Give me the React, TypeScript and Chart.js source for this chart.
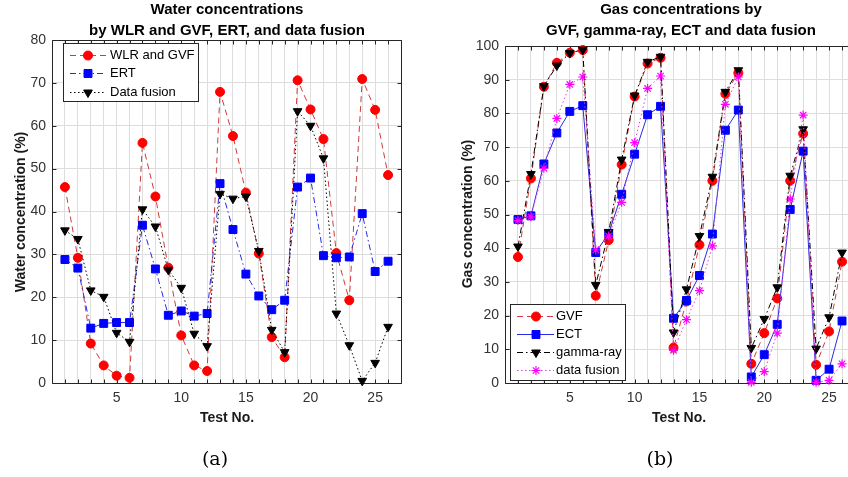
import React, { useEffect, useRef } from "react";
import { Chart, registerables } from "chart.js";

Chart.register(...registerables);

// ---------- data ----------
const testNo = [1, 2, 3, 4, 5, 6, 7, 8, 9, 10, 11, 12, 13, 14, 15, 16, 17, 18, 19, 20, 21, 22, 23, 24, 25, 26];
const xTickLabels = [5, 10, 15, 20, 25];

// (a) water concentrations (%)
const waterWlrGvf = [45.7, 29.2, 9.2, 4.1, 1.7, 1.2, 56.0, 43.5, 26.9, 11.1, 4.1, 2.8, 67.9, 57.6, 44.4, 30.2, 10.7, 6.0, 70.6, 63.8, 56.9, 30.3, 19.3, 70.9, 63.7, 48.5];
const waterErt = [28.8, 26.8, 12.8, 13.9, 14.1, 14.1, 36.8, 26.6, 15.8, 16.8, 15.6, 16.2, 46.5, 35.8, 25.4, 20.3, 17.1, 19.3, 45.7, 47.8, 29.7, 29.2, 29.4, 39.5, 26.0, 28.4];
const waterFusion = [35.6, 33.6, 21.6, 20.1, 11.7, 9.6, 40.5, 36.5, 26.4, 22.2, 11.5, 8.6, 44.1, 43.0, 43.5, 30.8, 12.4, 7.2, 63.4, 60.0, 52.4, 16.2, 8.8, 0.5, 4.7, 13.1];

// (b) gas concentrations (%)
const gasGvf = [37.4, 60.7, 87.9, 95.0, 98.0, 98.8, 25.9, 42.4, 64.8, 85.0, 94.8, 96.5, 10.5, 24.2, 41.0, 60.0, 85.8, 92.0, 5.7, 14.8, 25.1, 60.0, 74.0, 5.4, 15.3, 36.0];
const gasEct = [48.5, 49.6, 65.0, 74.2, 80.6, 82.3, 38.7, 44.4, 56.0, 67.9, 79.6, 82.1, 19.2, 24.5, 31.9, 44.2, 75.0, 81.0, 1.8, 8.4, 17.4, 51.5, 68.8, 0.8, 4.1, 18.4];
const gasGamma = [40.5, 62.0, 88.1, 94.2, 97.9, 98.9, 29.1, 44.8, 66.3, 85.3, 95.3, 96.8, 15.0, 27.8, 43.6, 61.2, 86.4, 92.8, 10.4, 19.0, 28.4, 61.5, 75.3, 10.2, 19.5, 38.7];
const gasFusion = [48.2, 49.3, 63.7, 78.5, 88.6, 90.8, 39.5, 43.6, 53.6, 71.3, 87.4, 91.1, 9.7, 18.8, 27.4, 40.7, 82.7, 90.8, 0.2, 3.4, 14.8, 54.6, 79.5, 0.2, 0.8, 5.7];

// ---------- styles ----------
const FONT = "'Liberation Sans', Arial, sans-serif";
const RED = "#ff0000";
const RED_LINE = "#d03a3a";
const BLUE = "#0000ff";
const BLUE_LINE = "#2a2ae0";
const BLACK = "#000000";
const MAGENTA = "#ff00ff";
const MAGENTA_LINE = "#e040e0";
const DASH = [6, 4];
const DASHDOT = [6, 3, 1.5, 3];
const DOT = [1.5, 2.5];
const SOLID: number[] = [];

type Marker = "circle" | "rect" | "tri" | "star";

function drawMarker(ctx: CanvasRenderingContext2D, m: Marker, x: number, y: number, r: number, color: string) {
  ctx.save();
  ctx.setLineDash([]);
  ctx.fillStyle = color;
  ctx.strokeStyle = color;
  ctx.lineWidth = 1;
  ctx.beginPath();
  if (m === "circle") {
    ctx.arc(x, y, r, 0, Math.PI * 2);
    ctx.fill();
    ctx.stroke();
  } else if (m === "rect") {
    const s = r * Math.SQRT1_2;
    ctx.rect(x - s, y - s, 2 * s, 2 * s);
    ctx.fill();
    ctx.stroke();
  } else if (m === "tri") {
    const w = r * Math.sin(Math.PI / 3);
    ctx.moveTo(x, y + r);
    ctx.lineTo(x - w, y - r / 2);
    ctx.lineTo(x + w, y - r / 2);
    ctx.closePath();
    ctx.fill();
    ctx.stroke();
  } else {
    ctx.lineWidth = 1.2;
    const d = r * Math.SQRT1_2;
    ctx.moveTo(x - r, y);
    ctx.lineTo(x + r, y);
    ctx.moveTo(x, y - r);
    ctx.lineTo(x, y + r);
    ctx.moveTo(x - d, y - d);
    ctx.lineTo(x + d, y + d);
    ctx.moveTo(x - d, y + d);
    ctx.lineTo(x + d, y - d);
    ctx.stroke();
  }
  ctx.restore();
}

type LegendItem = { label: string; line: string; dash: number[]; marker: Marker; mcolor: string; r: number };
type LegendCfg = { box: [number, number, number, number]; y0: number; dy: number; lx0: number; lx1: number; mx: number; tx: number; items: LegendItem[] };

const framePlugin = {
  id: "frame",
  beforeDatasetsDraw(chart: any) {
    const { ctx, chartArea, scales } = chart;
    const l = Math.round(chartArea.left) + 0.5;
    const r = Math.round(chartArea.right) + 0.5;
    const t = Math.round(chartArea.top) + 0.5;
    const b = Math.round(chartArea.bottom) + 0.5;
    ctx.save();
    ctx.strokeStyle = "#262626";
    ctx.lineWidth = 1;
    ctx.setLineDash([]);
    ctx.beginPath();
    ctx.rect(l, t, r - l, b - t);
    const xs = scales.x;
    for (let i = Math.ceil(xs.min); i <= xs.max; i++) {
      const px = Math.round(xs.getPixelForValue(i)) + 0.5;
      ctx.moveTo(px, t);
      ctx.lineTo(px, t + 4);
      ctx.moveTo(px, b);
      ctx.lineTo(px, b - 4);
    }
    const ys = scales.y;
    for (let v = ys.min; v <= ys.max; v += 10) {
      const py = Math.round(ys.getPixelForValue(v)) + 0.5;
      ctx.moveTo(l, py);
      ctx.lineTo(l + 4, py);
      ctx.moveTo(r, py);
      ctx.lineTo(r - 4, py);
    }
    ctx.stroke();
    ctx.restore();
  },
  afterDatasetsDraw(chart: any, _args: any, opts: any) {
    const lg: LegendCfg = opts.legend;
    if (!lg) return;
    const { ctx } = chart;
    const [x0, y0, x1, y1] = lg.box;
    ctx.save();
    ctx.fillStyle = "#ffffff";
    ctx.fillRect(x0, y0, x1 - x0, y1 - y0);
    ctx.strokeStyle = "#262626";
    ctx.lineWidth = 1;
    ctx.strokeRect(x0, y0, x1 - x0, y1 - y0);
    lg.items.forEach((it, i) => {
      const y = Math.round(lg.y0 + i * lg.dy) + 0.5;
      ctx.save();
      ctx.strokeStyle = it.line;
      ctx.lineWidth = 1;
      ctx.setLineDash(it.dash);
      ctx.beginPath();
      ctx.moveTo(lg.lx0, y);
      ctx.lineTo(lg.lx1, y);
      ctx.stroke();
      ctx.restore();
      drawMarker(ctx, it.marker, lg.mx, y, it.r, it.mcolor);
      ctx.fillStyle = "#000";
      ctx.font = `13px ${FONT}`;
      ctx.textBaseline = "middle";
      ctx.textAlign = "left";
      ctx.fillText(it.label, lg.tx, y);
    });
    ctx.restore();
  },
};

function series(label: string, ys: number[], line: string, dash: number[], marker: Marker, mcolor: string, r: number, order: number) {
  const ps: any = marker === "circle" ? "circle" : marker === "rect" ? "rect" : marker === "tri" ? "triangle" : "star";
  return {
    label,
    data: testNo.map((x, i) => ({ x, y: ys[i] })),
    borderColor: line,
    borderWidth: 1,
    borderDash: dash,
    pointStyle: ps,
    pointRotation: marker === "tri" ? 180 : 0,
    pointRadius: r,
    pointBackgroundColor: mcolor,
    pointBorderColor: mcolor,
    pointBorderWidth: marker === "star" ? 1.2 : 1,
    fill: false,
    tension: 0,
    clip: false as any,
    order,
  };
}

function makeOptions(yMax: number, yWidth: number, pad: { top: number; right: number }, legend: LegendCfg): any {
  return {
    responsive: false,
    animation: false,
    events: [],
    layout: { padding: { top: pad.top, right: pad.right, left: 0, bottom: 0 } },
    plugins: { legend: { display: false }, tooltip: { enabled: false }, title: { display: false }, frame: { legend } },
    scales: {
      x: {
        type: "linear",
        min: 0,
        max: 27,
        afterFit: (s: any) => {
          s.height = 94;
        },
        grid: { color: "#dedede", lineWidth: 1, drawTicks: false },
        border: { display: false },
        ticks: {
          stepSize: 1,
          autoSkip: false,
          maxRotation: 0,
          padding: 7,
          color: "#333333",
          font: { family: FONT, size: 14 },
          callback: (v: any) => (xTickLabels.includes(Number(v)) ? String(v) : ""),
        },
      },
      y: {
        type: "linear",
        min: 0,
        max: yMax,
        afterFit: (s: any) => {
          s.width = yWidth;
        },
        grid: { color: "#dedede", lineWidth: 1, drawTicks: false },
        border: { display: false },
        ticks: {
          stepSize: 10,
          padding: 6,
          color: "#333333",
          font: { family: FONT, size: 14 },
        },
      },
    },
  };
}

const leftLegend: LegendCfg = {
  box: [63.5, 43.5, 198.5, 101.5],
  y0: 55,
  dy: 18.3,
  lx0: 70,
  lx1: 106,
  mx: 88,
  tx: 110,
  items: [
    { label: "WLR and GVF", line: RED_LINE, dash: DASH, marker: "circle", mcolor: RED, r: 4.5 },
    { label: "ERT", line: BLUE_LINE, dash: DASHDOT, marker: "rect", mcolor: BLUE, r: 5.6 },
    { label: "Data fusion", line: BLACK, dash: DOT, marker: "tri", mcolor: BLACK, r: 5 },
  ],
};

const rightLegend: LegendCfg = {
  box: [80.5, 304.5, 195.5, 380.5],
  y0: 316,
  dy: 18,
  lx0: 87,
  lx1: 124,
  mx: 106,
  tx: 126,
  items: [
    { label: "GVF", line: RED_LINE, dash: DASH, marker: "circle", mcolor: RED, r: 4.5 },
    { label: "ECT", line: BLUE_LINE, dash: SOLID, marker: "rect", mcolor: BLUE, r: 5.6 },
    { label: "gamma-ray", line: BLACK, dash: DASHDOT, marker: "tri", mcolor: BLACK, r: 5 },
    { label: "data fusion", line: MAGENTA_LINE, dash: DOT, marker: "star", mcolor: MAGENTA, r: 4.5 },
  ],
};

const titleStyle: React.CSSProperties = {
  position: "absolute",
  width: 420,
  textAlign: "center",
  font: `bold 15px ${FONT}`,
  lineHeight: "21px",
  color: "#000",
  whiteSpace: "nowrap",
};

const axisStyle: React.CSSProperties = {
  position: "absolute",
  font: `bold 14px ${FONT}`,
  lineHeight: "16px",
  color: "#1a1a1a",
  whiteSpace: "nowrap",
  textAlign: "center",
};

const capStyle: React.CSSProperties = {
  position: "absolute",
  width: 80,
  textAlign: "center",
  font: `19px 'DejaVu Serif', 'Liberation Serif', serif`,
  lineHeight: "22px",
  color: "#000",
};

export default function App() {
  const leftRef = useRef<HTMLCanvasElement>(null);
  const rightRef = useRef<HTMLCanvasElement>(null);

  useEffect(() => {
    const left = new Chart(leftRef.current as HTMLCanvasElement, {
      type: "line",
      data: {
        datasets: [
          series("WLR and GVF", waterWlrGvf, RED_LINE, DASH, "circle", RED, 4.5, 2),
          series("ERT", waterErt, BLUE_LINE, DASHDOT, "rect", BLUE, 5.6, 1),
          series("Data fusion", waterFusion, BLACK, DOT, "tri", BLACK, 5, 0),
        ] as any,
      },
      options: makeOptions(80, 52, { top: 40, right: 23 }, leftLegend),
      plugins: [framePlugin as any],
    });
    const right = new Chart(rightRef.current as HTMLCanvasElement, {
      type: "line",
      data: {
        datasets: [
          series("GVF", gasGvf, RED_LINE, DASH, "circle", RED, 4.5, 3),
          series("ECT", gasEct, BLUE_LINE, SOLID, "rect", BLUE, 5.6, 2),
          series("gamma-ray", gasGamma, BLACK, DASHDOT, "tri", BLACK, 5, 1),
          series("data fusion", gasFusion, MAGENTA_LINE, DOT, "star", MAGENTA, 4.5, 0),
        ] as any,
      },
      options: makeOptions(100, 75, { top: 46, right: 15 }, rightLegend),
      plugins: [framePlugin as any],
    });
    return () => {
      left.destroy();
      right.destroy();
    };
  }, []);

  return (
    <div style={{ position: "absolute", left: 0, top: 0, width: 848, height: 477, overflow: "hidden", background: "#fff" }}>
      <canvas ref={leftRef} width={424} height={477} style={{ position: "absolute", left: 0, top: 0, width: 424, height: 477 }} />
      <canvas ref={rightRef} width={440} height={477} style={{ position: "absolute", left: 430, top: 0, width: 440, height: 477 }} />

      <div style={{ ...titleStyle, left: 227 - 210, top: -2 }}>
        Water concentrations
        <br />
        by WLR and GVF, ERT, and data fusion
      </div>
      <div style={{ ...titleStyle, left: 681 - 210, top: -2 }}>
        Gas concentrations by
        <br />
        GVF, gamma-ray, ECT and data fusion
      </div>

      <div style={{ ...axisStyle, left: 227 - 60, top: 409, width: 120 }}>Test No.</div>
      <div style={{ ...axisStyle, left: 679 - 60, top: 409, width: 120 }}>Test No.</div>

      <div style={{ ...axisStyle, left: 20 - 150, top: 212 - 8, width: 300, transform: "rotate(-90deg)" }}>
        Water concentration (%)
      </div>
      <div style={{ ...axisStyle, left: 467 - 150, top: 214 - 8, width: 300, transform: "rotate(-90deg)" }}>
        Gas concentration (%)
      </div>

      <div style={{ ...capStyle, left: 215 - 40, top: 447 }}>(a)</div>
      <div style={{ ...capStyle, left: 660 - 40, top: 447 }}>(b)</div>
    </div>
  );
}
